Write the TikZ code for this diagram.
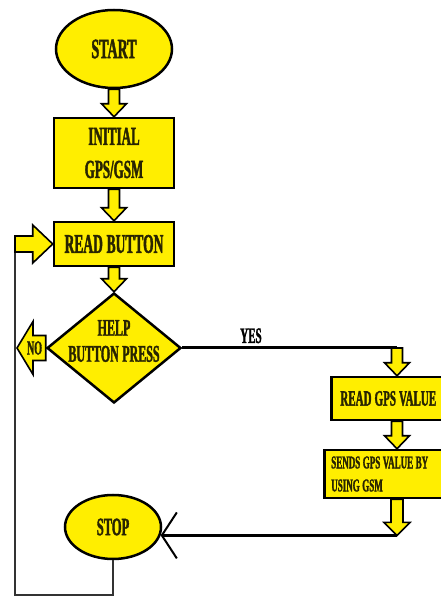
\documentclass[tikz,border=0pt]{standalone}
\usepackage{fontspec}
\newfontfamily\flowfont{Liberation Serif}[FakeStretch=0.5,BoldFeatures={FakeBold=1.5}]
\usetikzlibrary{shapes.geometric,calc,arrows.meta}
\definecolor{flowyellow}{RGB}{255,238,0}
\definecolor{flowtext}{RGB}{40,36,0}
\tikzset{
  terminal/.style = {ellipse,draw,line width=2.5pt,fill=flowyellow,inner sep=0pt,text=flowtext},
  process/.style  = {rectangle,draw,line width=2.5pt,fill=flowyellow,inner sep=0pt,text=flowtext,align=center},
  decision/.style = {diamond,draw,line width=2.5pt,fill=flowyellow,inner sep=0pt},
  fatarr/.style   = {draw,line width=1.6pt,fill=flowyellow,line join=miter},
  flowline/.style = {line width=3pt},
  loopline/.style = {line width=2.5pt,black!80}
}
\newcommand{\flowsize}[2]{\flowfont\bfseries\fontsize{#1}{#2}\selectfont\spaceskip=0.14em plus 0.05em}
\newcommand{\fatarrow}[5]{%
  \coordinate (arrbase) at ($(#2)!#5!(#1)$);
  \draw[fatarr] ($(#1)!#3!90:(#2)$) -- ($(arrbase)!#3!90:(#2)$) -- ($(arrbase)!#4!90:(#2)$)
    -- (#2) -- ($(arrbase)!#4!-90:(#2)$) -- ($(arrbase)!#3!-90:(#2)$) -- ($(#1)!#3!-90:(#2)$) -- cycle;
}

\begin{document}
\begin{tikzpicture}[x=1pt,y=1pt]
  \useasboundingbox (0,0) rectangle (440,598);
  \node[terminal,minimum width=116pt,minimum height=78pt,font=\flowsize{28}{30}] (start) at (114,549) {START};
  \node[process,minimum width=120pt,minimum height=70pt,font=\flowsize{26}{33}] (init) at (114,445) {INITIAL\\GPS/GSM};
  \node[process,minimum width=120pt,minimum height=44pt,font=\flowsize{27}{30}] (read) at (114,354) {READ BUTTON};
  \node[decision,minimum width=134pt,minimum height=110pt,
    label={[font=\flowsize{24}{26},align=center,text=flowtext,yshift=7pt]center:{HELP\\BUTTON PRESS}}] (help) at (114,250) {};
  \node[process,anchor=west,minimum width=114pt,minimum height=43pt,inner xsep=3pt,font=\flowsize{22}{24}] (gps) at (330,199.5) {READ GPS VALUE};
  \node[process,anchor=west,minimum height=48pt,text width=112pt,inner xsep=7pt,align=flush left,font=\flowsize{18}{23}] (send) at (323,124) {SENDS GPS VALUE BY\\USING GSM};
  \node[terminal,minimum width=96pt,minimum height=64pt,font=\flowsize{25}{27}] (stop) at (113,71) {STOP};

  \coordinate (yescorner) at (397,250);
  \coordinate (gpsin) at (yescorner |- gps.north);
  \coordinate (gpsout) at (yescorner |- gps.south);
  \coordinate (sendin) at (yescorner |- send.north);
  \coordinate (sendout) at (yescorner |- send.south);
  \coordinate (sendcorner) at (stop.-10 -| yescorner);
  \coordinate (loopcorner) at (15,354);
  \coordinate (loopbottom) at (15,3);
  \coordinate (notip) at (17,250);

  \draw[loopline] (stop.south) |- (loopbottom) -- (loopcorner);
  \draw[flowline] (help.east) -- node[pos=0.32,above,font=\flowsize{22}{24}] (yes) {YES} (yescorner);
  \draw[flowline,-{Straight Barb[length=15pt,width=46pt,line width=2pt]}] (sendcorner) -- (stop.-10);

  \fatarrow{start.south}{init.north}{5.5pt}{12.5pt}{13pt}
  \fatarrow{init.south}{read.north}{5.5pt}{12.5pt}{13pt}
  \fatarrow{read.south}{help.north}{5.5pt}{12.5pt}{13pt}
  \fatarrow{yescorner}{gpsin}{5.5pt}{12.5pt}{13pt}
  \fatarrow{gpsout}{sendin}{5.5pt}{12.5pt}{13pt}
  \fatarrow{sendout}{sendcorner}{6pt}{13pt}{13pt}
  \fatarrow{loopcorner}{read.west}{8pt}{19pt}{20pt}
  \fatarrow{help.west}{notip}{12.5pt}{26.5pt}{16pt}
  \node[font=\flowsize{20}{22},text=flowtext] (no) at ($(help.west)!0.39!(notip)$) {NO};
\end{tikzpicture}
\end{document}
